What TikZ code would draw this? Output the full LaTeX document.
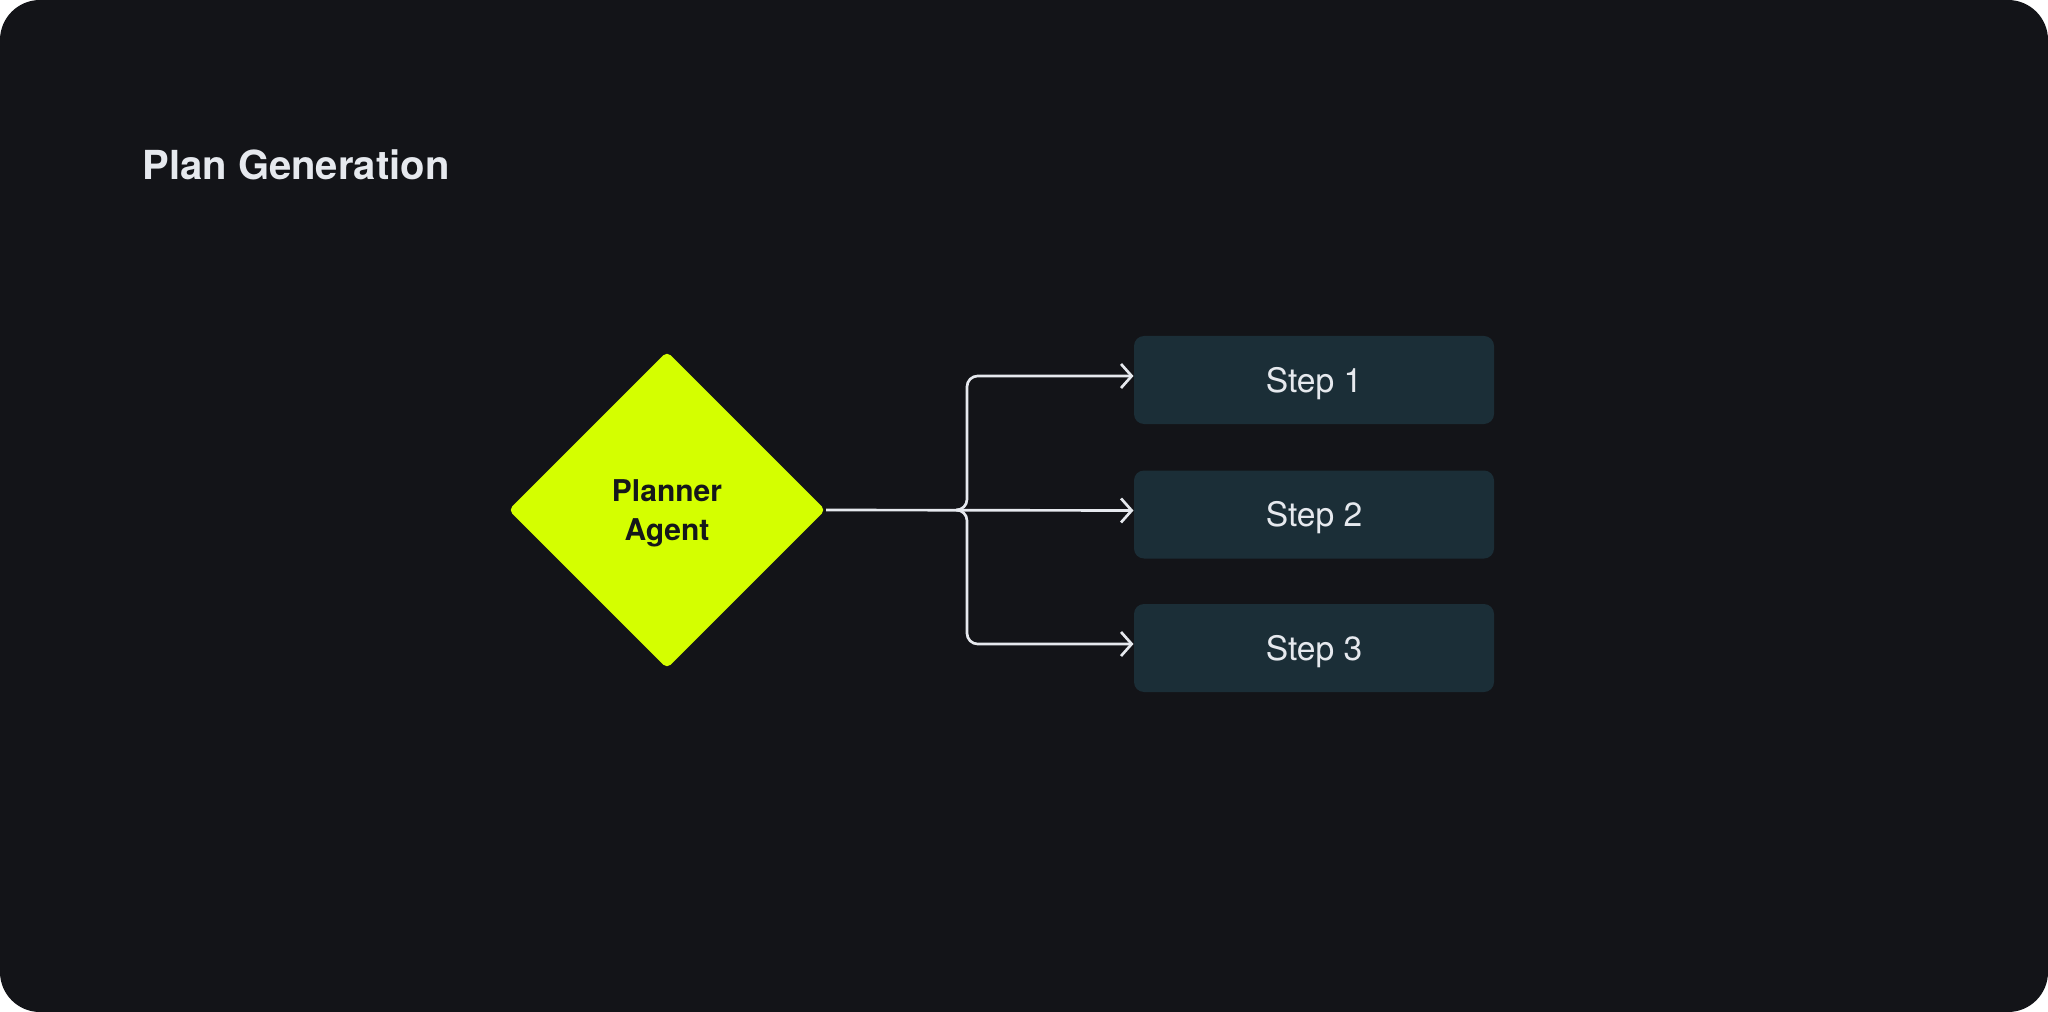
\documentclass[tikz,border=0pt]{standalone}
\usepackage{fontspec}
\setmainfont{TeX Gyre Heros}
\usetikzlibrary{shapes.geometric,arrows.meta,calc}
\definecolor{cardbg}{HTML}{131418}
\definecolor{lime}{HTML}{D4FF00}
\definecolor{stepbg}{HTML}{1B2E37}
\definecolor{lightfg}{HTML}{E6E9EE}
\definecolor{darkfg}{HTML}{15171A}
\tikzset{
  stepbox/.style={fill=stepbg, rounded corners=3.75pt, minimum width=135pt, minimum height=33pt,
    inner sep=0pt, text=lightfg, font=\fontsize{12.6}{14}\selectfont, text height=9pt, text depth=0pt},
  decision/.style={diamond, fill=lime, rounded corners=2pt, minimum width=119pt, minimum height=119pt,
    inner sep=0pt, aspect=1},
  conn/.style={draw=lightfg, line width=1pt, -{Straight Barb[length=4pt,width=9pt,line width=1pt]}},
}
\begin{document}
\begin{tikzpicture}[x=0.375pt,y=-0.375pt]
\useasboundingbox (0,0) rectangle (2048,1012);
\fill[white] (0,0) rectangle (2048,1012);
\fill[cardbg, rounded corners=15pt] (0,0) rectangle (2048,1012);

\node[anchor=base west, inner sep=0pt, text=lightfg, font=\fontsize{15}{18}\selectfont\bfseries] (title) at (142,180) {Plan Generation};

\node[decision] (pa) at (667,510) {};
\node[align=center, text=darkfg, font=\fontsize{11.25}{14.6}\selectfont\bfseries, inner sep=0pt] (pal) at (667,513) {Planner\\Agent};

\node[stepbox] (s1) at (1314,380) {Step 1};
\node[stepbox] (s2) at (1314,514.5) {Step 2};
\node[stepbox] (s3) at (1314,648) {Step 3};

\coordinate (a1) at ([yshift=1.5pt]s1.west);
\coordinate (a2) at ([yshift=1.5pt]s2.west);
\coordinate (a3) at ([yshift=1.5pt]s3.west);
\coordinate (tr) at (967,510);
\coordinate (js) at (957,510);

\draw[conn] (pa.east) -- (a2);
\draw[conn, rounded corners=4pt] (js) -- (tr) |- (a1);
\draw[conn, rounded corners=4pt] (js) -- (tr) |- (a3);
\end{tikzpicture}
\end{document}
